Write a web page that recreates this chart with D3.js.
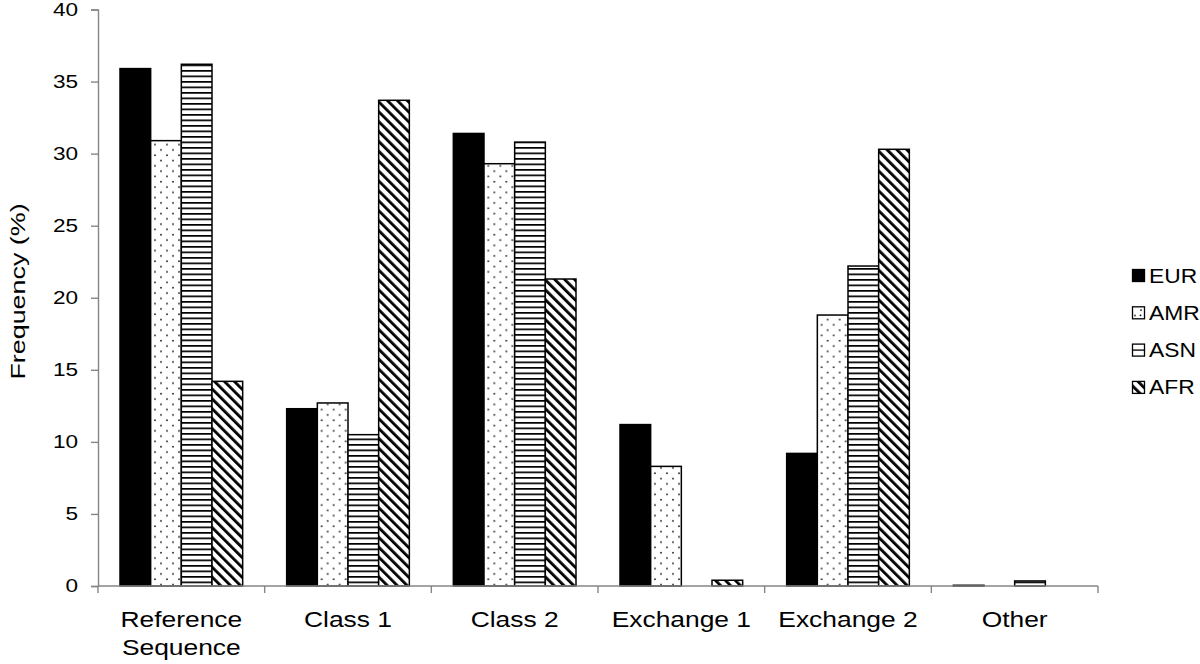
<!DOCTYPE html>
<html>
<head>
<meta charset="utf-8">
<script src="https://cdn.jsdelivr.net/npm/d3@7"></script>
<style>
  body { margin: 0; background: #fff; }
  svg { font-family: "Liberation Sans", Arial, sans-serif; }
</style>
</head>
<body>
<div id="chart-area"></div>
<script>
// data
var categories = ['Reference Sequence', 'Class 1', 'Class 2', 'Exchange 1', 'Exchange 2', 'Other'];
var series = ['EUR', 'AMR', 'ASN', 'AFR'];
var eur = [35.9, 12.3, 31.4, 11.2, 9.2, 0.05];
var amr = [30.9, 12.7, 29.3, 8.3, 18.8, 0];
var asn = [36.2, 10.5, 30.8, 0, 22.2, 0.35];
var afr = [14.2, 33.7, 21.3, 0.4, 30.3, 0];
var yTicks = [0, 5, 10, 15, 20, 25, 30, 35, 40];

var values = { EUR: eur, AMR: amr, ASN: asn, AFR: afr };

var W = 1200, H = 664;
var margin = {top: 9.5, left: 98, right: 102, bottom: 78};
var width = W - margin.left - margin.right;
var height = H - margin.top - margin.bottom;
var axisColor = '#868686';

// the source font is wider than Liberation Sans, so stretch text along its run
function stretch(sel, s) {
  sel.each(function() {
    var t = d3.select(this);
    var x = +t.attr('x') || 0;
    t.attr('transform', 'translate(' + (x * (1 - s)) + ',0) scale(' + s + ',1)');
  });
}

var svg = d3.select('#chart-area')
  .append('svg')
    .attr('width', W)
    .attr('height', H);

// fill patterns
var defs = svg.append('defs');
var dots = defs.append('pattern')
  .attr('id', 'pat-amr')
  .attr('patternUnits', 'userSpaceOnUse')
  .attr('width', 12).attr('height', 10.6);
dots.append('rect').attr('width', 12).attr('height', 10.6).attr('fill', '#fff');
dots.append('circle').attr('cx', 3).attr('cy', 2.6).attr('r', 0.9).attr('fill', '#222');
dots.append('circle').attr('cx', 9).attr('cy', 7.9).attr('r', 0.9).attr('fill', '#222');

var hlines = defs.append('pattern')
  .attr('id', 'pat-asn')
  .attr('patternUnits', 'userSpaceOnUse')
  .attr('width', 10).attr('height', 5.5);
hlines.append('rect').attr('width', 10).attr('height', 5.5).attr('fill', '#fff');
hlines.append('rect').attr('y', 0).attr('width', 10).attr('height', 1.7).attr('fill', '#000');

var diag = defs.append('pattern')
  .attr('id', 'pat-afr')
  .attr('patternUnits', 'userSpaceOnUse')
  .attr('width', 7).attr('height', 7)
  .attr('patternTransform', 'rotate(-45)');
diag.append('rect').attr('width', 7).attr('height', 7).attr('fill', '#fff');
diag.append('rect').attr('x', 0).attr('width', 2.8).attr('height', 7).attr('fill', '#000');

var fills = { EUR: '#000', AMR: 'url(#pat-amr)', ASN: 'url(#pat-asn)', AFR: 'url(#pat-afr)' };

var g = svg.append('g')
  .attr('transform', 'translate(' + margin.left + ',' + margin.top + ')');

// scales
var x0 = d3.scaleBand()
  .domain(categories)
  .range([0, width]);
var x1 = d3.scaleBand()
  .domain(series)
  .range([22, x0.bandwidth() - 22]);
var y = d3.scaleLinear()
  .domain([0, 40])
  .range([height, 0]);

// y axis
var yAxisCall = d3.axisLeft(y)
  .tickValues(yTicks)
  .tickSize(7)
  .tickPadding(13);
var yAxis = g.append('g')
  .attr('class', 'y-axis')
  .call(yAxisCall);
yAxis.select('.domain').attr('stroke', axisColor).attr('stroke-width', 1.4);
yAxis.selectAll('.tick line').attr('stroke', axisColor).attr('stroke-width', 1.4);
yAxis.selectAll('.tick text')
  .attr('fill', '#000')
  .attr('font-size', '18.5px')
  .attr('font-family', '"Liberation Sans", Arial, sans-serif')
  .call(stretch, 1.22);

// bars
var groups = g.selectAll('.cat')
  .data(categories)
  .enter().append('g')
    .attr('class', 'cat')
    .attr('transform', function(d) { return 'translate(' + x0(d) + ',0)'; });

groups.selectAll('rect')
  .data(function(d, i) {
    return series.map(function(s) { return {s: s, v: values[s][i]}; });
  })
  .enter().append('rect')
    .filter(function(d) { return d.v > 0; })
    .attr('x', function(d) { return x1(d.s); })
    .attr('y', function(d) { return y(d.v); })
    .attr('width', x1.bandwidth())
    .attr('height', function(d) { return height - y(d.v); })
    .attr('fill', function(d) { return fills[d.s]; })
    .attr('stroke', '#000')
    .attr('stroke-width', 1.5);

// x axis
var xAxis = g.append('g')
  .attr('class', 'x-axis')
  .attr('transform', 'translate(0,' + height + ')');
xAxis.append('line')
  .attr('x1', 0).attr('x2', width)
  .attr('stroke', axisColor).attr('stroke-width', 1.4);
var bounds = categories.map(function(c) { return x0(c); }).concat([width]);
xAxis.selectAll('.xtick')
  .data(bounds)
  .enter().append('line')
    .attr('class', 'xtick')
    .attr('x1', function(d) { return d; }).attr('x2', function(d) { return d; })
    .attr('y1', 0).attr('y2', 7)
    .attr('stroke', axisColor).attr('stroke-width', 1.4);

// category labels
var labels = xAxis.selectAll('.xlabel')
  .data(categories)
  .enter().append('text')
    .attr('class', 'xlabel')
    .attr('x', function(d) { return x0(d) + x0.bandwidth() / 2; })
    .attr('y', 41.5)
    .attr('text-anchor', 'middle')
    .attr('font-size', '22px')
    .attr('fill', '#000');
labels.each(function(d) {
  var words = d === 'Reference Sequence' ? ['Reference', 'Sequence'] : [d];
  var t = d3.select(this);
  words.forEach(function(w, i) {
    t.append('tspan')
      .attr('x', x0(d) + x0.bandwidth() / 2)
      .attr('dy', i === 0 ? 0 : 27.5)
      .text(w);
  });
});
labels.call(stretch, 1.2);

// y label
svg.append('g')
  .attr('transform', 'rotate(-90)')
  .append('text')
    .attr('x', -291.5)
    .attr('y', 25)
    .attr('font-size', '21px')
    .attr('text-anchor', 'middle')
    .text('Frequency (%)')
    .call(stretch, 1.28);

// legend
var legend = svg.append('g')
  .attr('transform', 'translate(1132,275.5)');
series.forEach(function(s, i) {
  var row = legend.append('g').attr('transform', 'translate(0,' + (i * 37.3) + ')');
  row.append('rect')
    .attr('x', 0.5)
    .attr('y', -6)
    .attr('width', 12)
    .attr('height', 12)
    .attr('fill', s === 'AFR' ? 'url(#pat-afr)' : (s === 'ASN' ? '#fff' : fills[s]))
    .attr('stroke', '#000')
    .attr('stroke-width', 1.3);
  if (s === 'ASN') {
    row.append('line').attr('x1', 0.5).attr('x2', 12.5).attr('y1', 0).attr('y2', 0)
      .attr('stroke', '#000').attr('stroke-width', 1.3);
  }
  if (s === 'AMR') {
    row.append('circle').attr('cx', 8.5).attr('cy', 2.5).attr('r', 0.9).attr('fill', '#000');
  }
  row.append('text')
    .attr('x', 17)
    .attr('y', 7)
    .attr('font-size', '19.5px')
    .text(s)
    .call(stretch, 1.17);
});
</script>
</body>
</html>
